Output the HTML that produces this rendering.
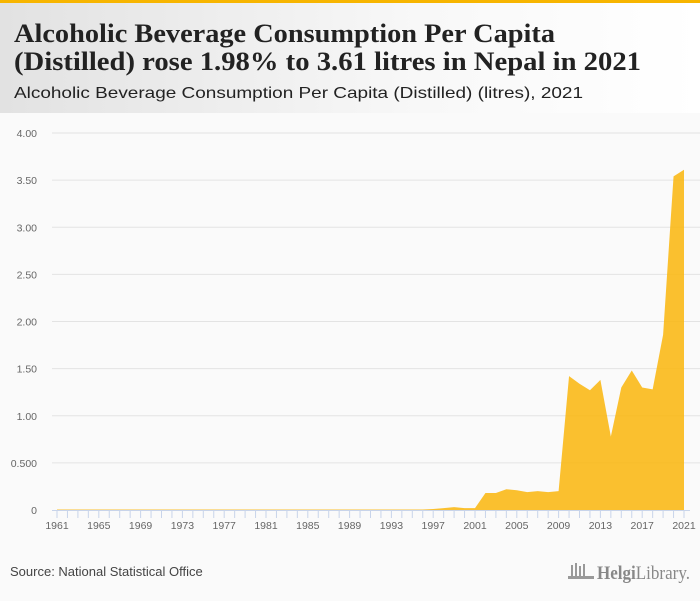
<!DOCTYPE html>
<html><head><meta charset="utf-8"><style>
body{margin:0;width:700px;height:596px;overflow:hidden;background:#fafafa;font-family:"Liberation Sans",sans-serif}
</style></head><body>
<svg id="chart" width="700" height="596" xmlns="http://www.w3.org/2000/svg">
<defs><linearGradient id="hg" x1="0" x2="1" y1="0" y2="0"><stop offset="0" stop-color="#e2e2e2"/><stop offset="0.6" stop-color="#f8f8f8"/><stop offset="1" stop-color="#ffffff"/></linearGradient></defs>
<rect x="0" y="0" width="700" height="113" fill="url(#hg)"/>
<rect x="0" y="0" width="700" height="3" fill="#f7b500"/>
<text x="14" y="42" font-family="Liberation Serif,serif" font-weight="bold" font-size="26" fill="#222" textLength="541" lengthAdjust="spacingAndGlyphs">Alcoholic Beverage Consumption Per Capita</text>
<text x="14" y="70" font-family="Liberation Serif,serif" font-weight="bold" font-size="26" fill="#222" textLength="627" lengthAdjust="spacingAndGlyphs">(Distilled) rose 1.98% to 3.61 litres in Nepal in 2021</text>
<text x="14" y="98" font-size="16" fill="#222" textLength="569" lengthAdjust="spacingAndGlyphs">Alcoholic Beverage Consumption Per Capita (Distilled) (litres), 2021</text>
<g id="plot"></g>
<text x="10" y="576" font-size="13" fill="#444">Source: National Statistical Office</text>
<g>
<g fill="#999"><rect x="571" y="565" width="2" height="12"/><rect x="575" y="563" width="2" height="14"/><rect x="579" y="566" width="2" height="11"/><rect x="583" y="564" width="2" height="13"/><rect x="568" y="576" width="26" height="3"/></g>
<text x="597" y="579" font-family="Liberation Serif,serif" font-size="19" fill="#888" textLength="93" lengthAdjust="spacingAndGlyphs"><tspan font-weight="bold">Helgi</tspan><tspan>Library.</tspan></text>
</g>
</svg>
<script>
const years=[1961,1962,1963,1964,1965,1966,1967,1968,1969,1970,1971,1972,1973,1974,1975,1976,1977,1978,1979,1980,1981,1982,1983,1984,1985,1986,1987,1988,1989,1990,1991,1992,1993,1994,1995,1996,1997,1998,1999,2000,2001,2002,2003,2004,2005,2006,2007,2008,2009,2010,2011,2012,2013,2014,2015,2016,2017,2018,2019,2020,2021];
const values=[0.005,0.005,0.005,0.005,0.005,0.005,0.005,0.005,0.005,0.005,0.005,0.005,0.005,0.005,0.005,0.005,0.005,0.005,0.005,0.005,0.005,0.005,0.005,0.005,0.005,0.005,0.005,0.005,0.005,0.005,0.005,0.005,0.005,0.005,0.005,0.005,0.01,0.02,0.03,0.02,0.02,0.18,0.18,0.22,0.21,0.19,0.20,0.19,0.20,1.42,1.34,1.27,1.38,0.78,1.30,1.48,1.30,1.28,1.86,3.54,3.61];
const yTicks=[0,0.5,1,1.5,2,2.5,3,3.5,4];
const yTickLabels=["0","0.500","1.00","1.50","2.00","2.50","3.00","3.50","4.00"];
const xLabelYears=[1961,1965,1969,1973,1977,1981,1985,1989,1993,1997,2001,2005,2009,2013,2017,2021];
const NS="http://www.w3.org/2000/svg";
const X0=57,X1=684,Y0=510,Y1=133;
const xs=y=>X0+(y-1961)/(2021-1961)*(X1-X0);
const ys=v=>Y0-v/4*(Y0-Y1);
const g=document.getElementById('plot');
function mk(t,a){const e=document.createElementNS(NS,t);for(const k in a)e.setAttribute(k,a[k]);g.appendChild(e);return e;}
yTicks.forEach((t,i)=>{
  if(t>0){const l=mk('line',{x1:52,x2:700,y1:ys(t),y2:ys(t),stroke:'#e3e3e3','stroke-width':1});
  
  }
  const tx=mk('text',{x:37,y:ys(t)+4,'text-anchor':'end','font-size':10.5,fill:'#666'});
  tx.textContent=yTickLabels[i];
  
  
});
let d='M'+xs(years[0])+','+ys(0);
years.forEach((y,i)=>{d+=' L'+xs(y)+','+ys(values[i]);});
d+=' L'+xs(years[years.length-1])+','+ys(0)+' Z';
const area=mk('path',{d:d,fill:'#f9b712',opacity:0.88});


const ax=mk('line',{x1:52,x2:690,y1:Y0+0.5,y2:Y0+0.5,stroke:'#c8d4ea'});


years.forEach(y=>{const t=mk('line',{x1:xs(y),x2:xs(y),y1:Y0,y2:Y0+8,stroke:'#c8d4ea'});

});
xLabelYears.forEach(y=>{const t=mk('text',{x:xs(y),y:Y0+19,'text-anchor':'middle','font-size':10.5,fill:'#666'});
t.textContent=y;

});
</script>
</body></html>
